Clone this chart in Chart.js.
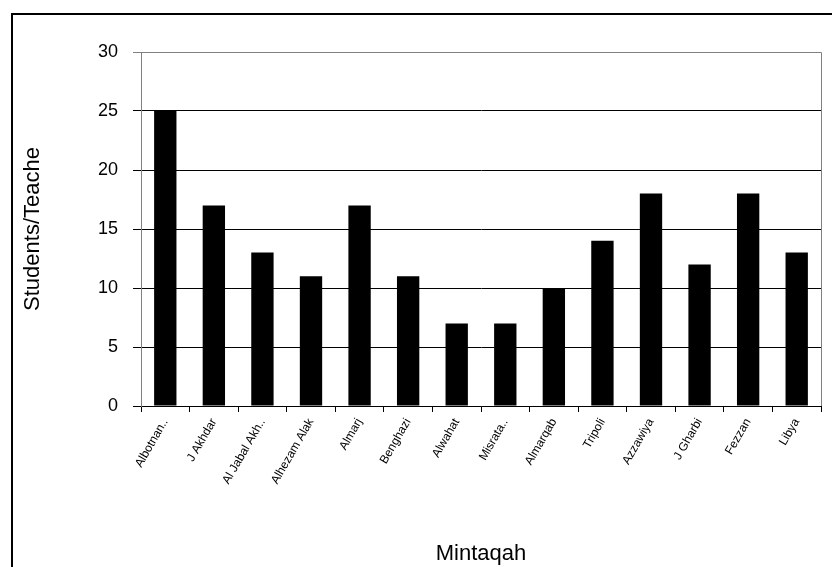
<!DOCTYPE html>
<html>
<head>
<meta charset="utf-8">
<script src="https://cdn.jsdelivr.net/npm/chart.js@4"></script>
<style>
  html, body { margin: 0; padding: 0; background: #fff; }
  #wrap { width: 832px; height: 567px; }
</style>
</head>
<body>
<div id="wrap"><canvas id="c" width="832" height="567"></canvas></div>
<script>
// Regions (mintaqah) and pupils per teacher
const regions = ['Albotnan..', 'J Akhdar', 'Al Jabal Akh..', 'Alhezam Alak', 'Almarj', 'Benghazi',
  'Alwahat', 'Misrata..', 'Almarqab', 'Tripoli', 'Azzawiya', 'J Gharbi', 'Fezzan', 'Libya'];
const studentsPerTeacher = [25, 17, 13, 11, 17, 11, 7, 7, 10, 14, 18, 12, 18, 13];
const yTicks = [0, 5, 10, 15, 20, 25, 30];

// Outer frame and plot-area edges
const framePlugin = {
  id: 'frame',
  afterDraw(chart) {
    const { ctx, chartArea: a } = chart;
    ctx.save();
    ctx.strokeStyle = '#000';
    ctx.lineWidth = 2;
    ctx.strokeRect(12, 14, 840, 600);
    ctx.strokeStyle = '#808080';
    ctx.lineWidth = 1;
    ctx.beginPath();
    ctx.moveTo(a.left, a.top + 0.5);
    ctx.lineTo(a.right + 0.5, a.top + 0.5);
    ctx.lineTo(a.right + 0.5, a.bottom);
    ctx.stroke();
    ctx.restore();
  }
};

new Chart(document.getElementById('c'), {
  type: 'bar',
  data: {
    labels: regions,
    datasets: [{
      data: studentsPerTeacher,
      backgroundColor: '#000',
      borderWidth: 0,
      barPercentage: 0.46,
      categoryPercentage: 1
    }]
  },
  options: {
    responsive: false,
    animation: false,
    devicePixelRatio: 1,
    layout: { padding: { left: 0, top: 52, right: 11, bottom: 0 } },
    plugins: { legend: { display: false }, tooltip: { enabled: false } },
    scales: {
      x: {
        afterFit(s) { s.height = 161; },
        grid: { display: true, drawOnChartArea: false, offset: true, tickLength: 6, color: '#000' },
        border: { color: '#000' },
        ticks: {
          minRotation: 60, maxRotation: 60, autoSkip: false,
          font: { family: 'Liberation Sans', size: 12 }, color: '#000', padding: 4
        },
        title: {
          display: true, text: 'Mintaqah',
          font: { family: 'Liberation Sans', size: 22 }, color: '#000',
          padding: { top: 0, bottom: 0 }
        }
      },
      y: {
        min: 0, max: 30,
        afterFit(s) { s.width = 141; },
        afterBuildTicks(s) { s.ticks = yTicks.map(v => ({ value: v })); },
        grid: {
          tickLength: 8,
          color: ctx => ctx.tick && ctx.tick.value === 30 ? '#808080' : '#000'
        },
        border: { color: '#808080' },
        ticks: {
          font: { family: 'Liberation Sans', size: 18 }, color: '#000', padding: 15
        },
        title: {
          display: true, text: 'Students/Teache',
          font: { family: 'Liberation Sans', size: 22 }, color: '#000',
          padding: { top: 20, bottom: 0 }
        }
      }
    }
  },
  plugins: [framePlugin]
});
</script>
</body>
</html>
